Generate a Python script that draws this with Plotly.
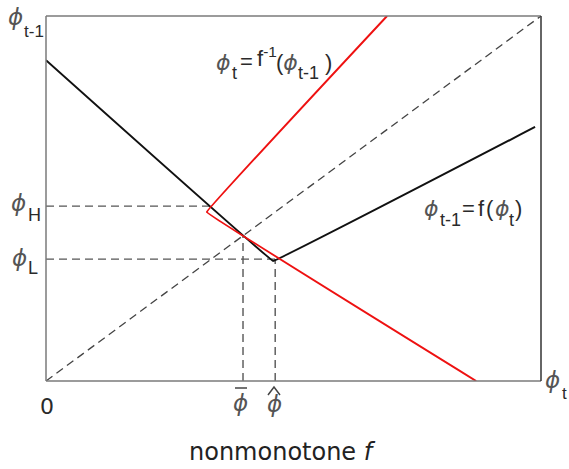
import plotly.graph_objects as go

# Map f (black) and its inverse (red), in unit coordinates of the phase diagram
f_x = [0.0, 0.459, 0.988]
f_y = [0.879, 0.329, 0.696]
finv_x = [0.869, 0.325, 0.689]
finv_y = [0.0, 0.463, 1.0]

# Reference levels
phi_H = 0.479
phi_L = 0.334
phi_bar = 0.398
phi_hat = 0.463
phi_H_end = 0.331

W, H = 569, 469
L, R, T, B = 46, 28, 16, 88
PW, PH = W - L - R, H - T - B


def px(x):
    return (x - L) / PW


def py(y):
    return (H - B - y) / PH


TXT = "#2a2a2a"
PHC = "#555"
SANS = "Liberation Sans, Arial, DejaVu Sans"
DJV = "DejaVu Sans, Verdana"
dash = "8px,5px"

fig = go.Figure()

# 45-degree line
fig.add_trace(go.Scatter(x=[0, 1], y=[0, 1], mode="lines",
                         line=dict(color="#444", width=1.3, dash=dash)))
# guide lines for phi_H, phi_L, phi_bar, phi_hat
fig.add_trace(go.Scatter(x=[0, phi_H_end], y=[phi_H, phi_H], mode="lines",
                         line=dict(color="#555", width=1.4, dash=dash)))
fig.add_trace(go.Scatter(x=[0, phi_hat], y=[phi_L, phi_L], mode="lines",
                         line=dict(color="#555", width=1.4, dash=dash)))
fig.add_trace(go.Scatter(x=[phi_bar, phi_bar], y=[0, phi_bar], mode="lines",
                         line=dict(color="#555", width=1.4, dash=dash)))
fig.add_trace(go.Scatter(x=[phi_hat, phi_hat], y=[0, phi_L], mode="lines",
                         line=dict(color="#555", width=1.4, dash=dash)))
# the map and its inverse (slightly rounded kinks)
fig.add_trace(go.Scatter(x=f_x, y=f_y, mode="lines",
                         line=dict(color="#111", width=2, shape="spline", smoothing=0.04)))
fig.add_trace(go.Scatter(x=finv_x, y=finv_y, mode="lines",
                         line=dict(color="#ee1111", width=2, shape="spline", smoothing=0.04)))

ann = []


def text(x, y, s, size, family=SANS, color=TXT, anchor="center"):
    ann.append(dict(x=px(x), y=py(y), xref="paper", yref="paper", text=s,
                    showarrow=False, xanchor=anchor, yanchor="middle",
                    borderpad=0,
                    font=dict(size=size, family=family, color=color)))


PHI = 23
IPHI = "<i>ϕ</i>"
PAREN_PHI = f"(<span style='font-family:DejaVu Sans;color:{PHC}'><i>ϕ</i></span>"

# vertical axis label
text(15, 17, IPHI, PHI, DJV, PHC)
text(34, 31, "t-1", 17)
# phi_H / phi_L
text(18, 203, IPHI, PHI, DJV, PHC)
text(34, 215, "H", 18)
text(19, 258, IPHI, PHI, DJV, PHC)
text(33, 268, "L", 18)
# horizontal axis
text(47, 406, "0", 22, DJV)
text(240, 403, IPHI, PHI, DJV, PHC)
text(274, 404, IPHI, PHI, DJV, PHC)
text(552, 380, IPHI, PHI, DJV, PHC)
text(564, 393, "t", 17)
text(282, 452, "nonmonotone <i>f</i>", 24, DJV, "#222")

# curve labels, set piece by piece: (left x, centre y, text, size)
inv_label = [
    (215, 62, IPHI, 22), (231, 73, "t", 18), (239, 61, "=", 22),
    (256, 57, "f<sup>-1</sup>", 22), (275, 62, PAREN_PHI, 22),
    (297, 73, "t-1", 18), (324, 62, ")", 22),
]
map_label = [
    (423, 209, IPHI, 22), (439, 220, "t-1", 18), (461, 209, "=", 22),
    (477, 209, "f", 22), (485, 209, "(", 22), (494, 209, IPHI, 22),
    (508, 220, "t", 18), (514, 209, ")", 22),
]
for lx, ly, s, size in inv_label + map_label:
    if s == IPHI:
        text(lx, ly, s, size, DJV, PHC, anchor="left")
    else:
        text(lx, ly, s, size, SANS, TXT, anchor="left")

shapes = [
    # frame
    dict(type="line", xref="paper", yref="paper", x0=0, x1=0, y0=0, y1=1,
         line=dict(color="#7a7a7a", width=1.5)),
    dict(type="line", xref="paper", yref="paper", x0=0, x1=1, y0=0, y1=0,
         line=dict(color="#7a7a7a", width=1.5)),
    dict(type="line", xref="paper", yref="paper", x0=0, x1=1, y0=1, y1=1,
         line=dict(color="#7a7a7a", width=1.5)),
    dict(type="line", xref="paper", yref="paper", x0=1, x1=1, y0=0, y1=1,
         line=dict(color="#333", width=1.5)),
    # bar and hat accents
    dict(type="line", xref="paper", yref="paper", x0=px(235), x1=px(247),
         y0=py(388), y1=py(388), line=dict(color="#444", width=1.5)),
    dict(type="path", xref="paper", yref="paper",
         path=f"M {px(268)} {py(395)} L {px(274)} {py(387)} L {px(280)} {py(395)}",
         line=dict(color="#444", width=1.5)),
]

fig.update_layout(
    width=W, height=H,
    margin=dict(l=L, r=R, t=T, b=B),
    paper_bgcolor="white", plot_bgcolor="white",
    showlegend=False,
    xaxis=dict(range=[0, 1], showgrid=False, zeroline=False, showticklabels=False,
               ticks="", fixedrange=True),
    yaxis=dict(range=[0, 1], showgrid=False, zeroline=False, showticklabels=False,
               ticks="", fixedrange=True),
    annotations=ann, shapes=shapes,
)

fig.write_html("out.html")
